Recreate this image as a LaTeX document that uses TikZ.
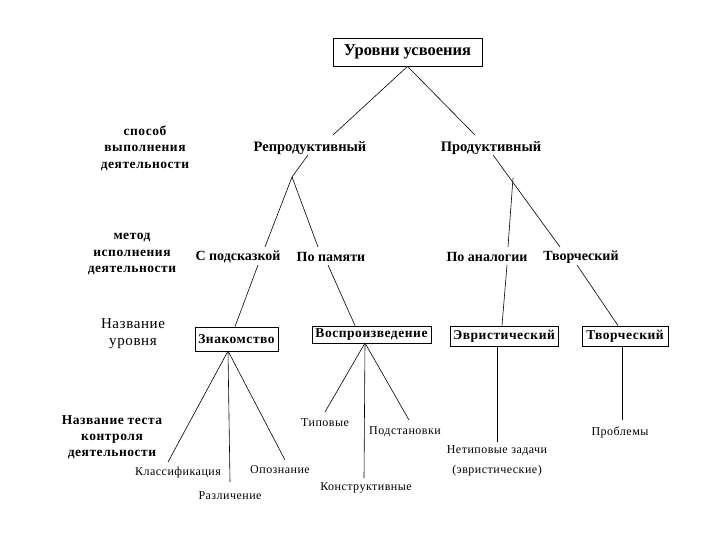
\documentclass[tikz,border=0pt]{standalone}
\usepackage{fontspec}
\setmainfont{Liberation Serif}
\newfontfamily\lsf[LetterSpace=4]{Liberation Serif}
\begin{document}
\begin{tikzpicture}[x=1pt,y=-1pt,
  lab/.style={inner sep=0pt, align=center},
  l2/.style={lab, font=\fontsize{14.5}{16}\selectfont\bfseries},
  l3/.style={lab, font=\fontsize{14}{16}\selectfont\bfseries},
  side/.style={lab, font=\lsf\fontsize{13.5}{16.5}\selectfont\bfseries},
  sidereg/.style={lab, font=\lsf\fontsize{15}{17}\selectfont},
  bx/.style={draw, line width=0.8pt, inner sep=0pt, font=\lsf\fontsize{13.5}{14}\selectfont\bfseries},
  leaf/.style={lab, font=\lsf\fontsize{12}{20}\selectfont},
  ln/.style={line width=0.6pt}]
\useasboundingbox (0,0) rectangle (720,540);
\fill[white] (0,0) rectangle (720,540);

% title
\node[bx, font=\fontsize{16.5}{18}\selectfont\bfseries, minimum width=149pt, minimum height=28pt] (title) at (407.5,52) {Уровни усвоения};

% side labels
\node[side] (s1) at (145,148) {способ\\выполнения\\деятельности};
\node[side] (s2) at (132,254) {метод\\исполнения\\деятельности};
\node[sidereg] (s3) at (133,334) {Название\\уровня};
\node[side, font=\lsf\fontsize{13.5}{16}\selectfont\bfseries] (s4) at (112,437) {Название теста\\контроля\\деятельности};

% level 2
\node[l2] (rep) at (310,148) {Репродуктивный};
\node[l2] (prod) at (491,148) {Продуктивный};

% level 3
\node[l3] (hint) at (238,257) {С подсказкой};
\node[l3] (mem) at (331,257) {По памяти};
\node[l3] (anal) at (487,257) {По аналогии};
\node[l3] (cre) at (581,257) {Творческий};

% level 4 boxes
\node[bx, minimum width=83pt, minimum height=24pt] (zn) at (236.5,339) {Знакомство};
\node[bx, minimum width=119pt, minimum height=17pt] (vos) at (371.5,334.5) {Воспроизведение};
\node[bx, minimum width=108pt, minimum height=20pt] (evr) at (504,336) {Эвристический};
\node[bx, minimum width=86pt, minimum height=20pt] (tvo) at (625,336) {Творческий};

% leaves
\node[leaf] (kl) at (178,473) {Классификация};
\node[leaf] (ra) at (230,496) {Различение};
\node[leaf] (op) at (280,470) {Опознание};
\node[leaf] (ti) at (325,423) {Типовые};
\node[leaf] (po) at (405,432) {Подстановки};
\node[leaf] (ko) at (366,488) {Конструктивные};
\node[leaf] (ne) at (497,461) {Нетиповые задачи\\(эвристические)};
\node[leaf] (pr) at (620,432) {Проблемы};

% connector end points
\coordinate (a1) at (333,135);
\coordinate (a2) at (475,135);
\coordinate (b0) at (308,155);
\coordinate (b1) at (292,177);
\coordinate (b2) at (265,247);
\coordinate (b3) at (318,247);
\coordinate (c0) at (493,155);
\coordinate (c1) at (513,178);
\coordinate (c2) at (508,247);
\coordinate (c3) at (560,247);
\coordinate (d1) at (258,265);
\coordinate (d2) at (328,265);
\coordinate (d3) at (507,265);
\coordinate (d4) at (577,265);
\coordinate (e0) at (228,351);
\coordinate (e1) at (168,462);
\coordinate (e2) at (230,482);
\coordinate (e3) at (285,460);
\coordinate (f0) at (365,343);
\coordinate (f1) at (325,412);
\coordinate (f2) at (364,478);
\coordinate (f3) at (409,420);
\coordinate (g1) at (497,442);
\coordinate (h1) at (622,420);

% connectors
\draw[ln] (title.south) -- (a1);
\draw[ln] (title.south) -- (a2);
\draw[ln] (b0) -- (b1) -- (b2);
\draw[ln] (b1) -- (b3);
\draw[ln] (c0) -- (c3);
\draw[ln] (c1) -- (c2);
\draw[ln] (d1) -- (zn.north -| 235,0);
\draw[ln] (d2) -- (vos.north -| 355,0);
\draw[ln] (d3) -- (evr.north -| 502,0);
\draw[ln] (d4) -- (tvo.north -| 618,0);
\draw[ln] (e0) -- (e1);
\draw[ln] (e0) -- (e2);
\draw[ln] (e0) -- (e3);
\draw[ln] (f0) -- (f1);
\draw[ln] (f0) -- (f2);
\draw[ln] (f0) -- (f3);
\draw[ln] (evr.south -| 497,0) -- (g1);
\draw[ln] (tvo.south -| 622,0) -- (h1);
\end{tikzpicture}
\end{document}
